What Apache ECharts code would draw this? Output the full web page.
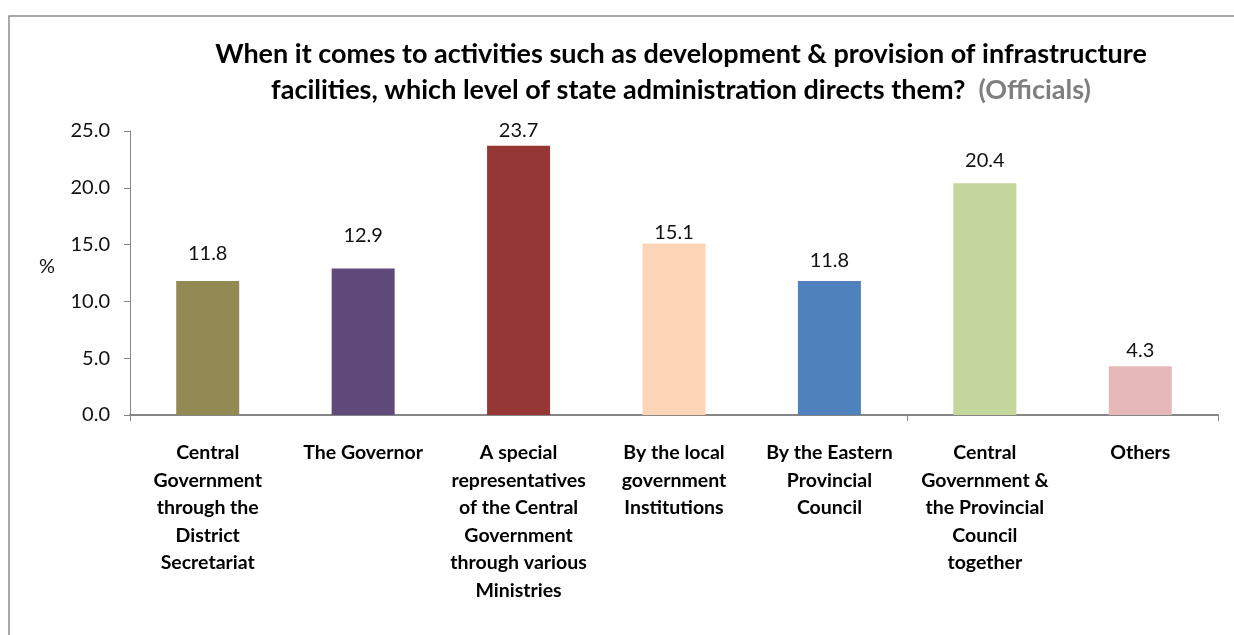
<!DOCTYPE html>
<html>
<head>
<meta charset="utf-8">
<script src="https://cdn.jsdelivr.net/npm/echarts@6/dist/echarts.min.js"></script>
<style>
  html, body { margin: 0; padding: 0; background: #fff; }
  #chart { width: 1234px; height: 635px; }
</style>
</head>
<body>
<div id="chart"></div>
<script>
// Survey responses (officials): share of answers per administration level, in %
const categories = [
  'Central\nGovernment\nthrough the\nDistrict\nSecretariat',
  'The Governor',
  'A special\nrepresentatives\nof the Central\nGovernment\nthrough various\nMinistries',
  'By the local\ngovernment\nInstitutions',
  'By the Eastern\nProvincial\nCouncil',
  'Central\nGovernment &\nthe Provincial\nCouncil\ntogether',
  'Others'
];
const values = [11.8, 12.9, 23.7, 15.1, 11.8, 20.4, 4.3];
const yTicks = [0, 5, 10, 15, 20, 25];

// Styling: one fill per bar and the gap between each bar top and its value label
const barColors = ['#938953', '#604A7B', '#953735', '#FBD5B5', '#4F81BD', '#C3D69B', '#E6B9B8'];
const labelGaps = [17, 23, 5, 1, 10, 13, 6];

const FONT = 'Lato, "Open Sans", sans-serif';

const chart = echarts.init(document.getElementById('chart'));
chart.setOption({
  backgroundColor: '#fff',
  animation: false,
  graphic: [
    {
      type: 'rect',
      shape: { x: 9, y: 16, width: 1240, height: 640 },
      style: { fill: 'none', stroke: '#8C8C8C', lineWidth: 1.5 },
      silent: true
    },
    {
      type: 'text',
      left: 39, top: 257,
      style: { text: '%', fill: '#111', font: '20px ' + FONT }
    }
  ],
  title: {
    text: '{b|When it comes to activities such as development & provision of infrastructure}\n' +
          '{b|facilities, which level of state administration directs them?}{g|  (Officials)}',
    left: 676, top: 31, textAlign: 'center',
    textStyle: {
      rich: {
        b: { fontFamily: FONT, fontWeight: 'bold', fontSize: 27, color: '#000', lineHeight: 36 },
        g: { fontFamily: FONT, fontWeight: 'bold', fontSize: 27, color: '#7F7F7F', lineHeight: 36 }
      }
    }
  },
  grid: { left: 130, right: 16, top: 131, bottom: 220, containLabel: false },
  xAxis: {
    type: 'category',
    data: categories,
    boundaryGap: true,
    axisLine: { show: true, lineStyle: { color: '#868686', width: 2 } },
    axisTick: {
      show: true, length: 6,
      interval: (i) => i === 0 || i === 5,
      lineStyle: { color: '#868686', width: 1 }
    },
    axisLabel: {
      interval: 0, margin: 24,
      fontFamily: FONT, fontWeight: 'bold', fontSize: 19.5, color: '#000',
      lineHeight: 27.5, align: 'center'
    }
  },
  yAxis: {
    type: 'value',
    min: yTicks[0], max: yTicks[yTicks.length - 1], interval: 5,
    splitLine: { show: false },
    axisLine: { show: true, lineStyle: { color: '#868686', width: 1 } },
    axisTick: { show: true, length: 6, lineStyle: { color: '#868686' } },
    axisLabel: {
      margin: 20,
      fontFamily: FONT, fontSize: 20, color: '#111',
      formatter: (v) => v.toFixed(1)
    }
  },
  series: [{
    type: 'bar',
    data: values.map((v, i) => ({
      value: v,
      itemStyle: { color: barColors[i] },
      label: { distance: labelGaps[i] }
    })),
    barWidth: 63,
    label: {
      show: true, position: 'top',
      fontFamily: FONT, fontSize: 20, color: '#111',
      formatter: (p) => p.value.toFixed(1)
    }
  }]
});
</script>
</body>
</html>
